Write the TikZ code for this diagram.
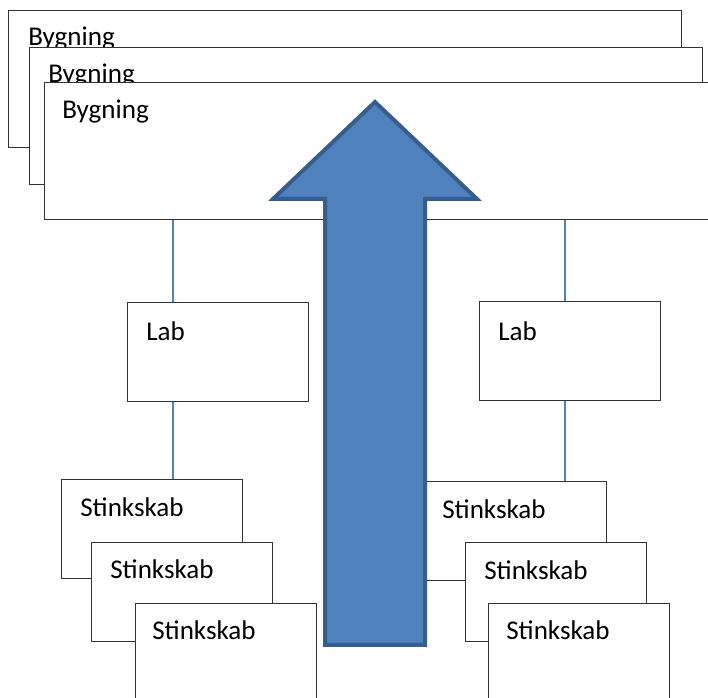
\documentclass[tikz,border=0pt]{standalone}
\usepackage{fontspec}
\setmainfont{Carlito}
\usepackage{xcolor}
\usetikzlibrary{positioning}

\definecolor{pilfyld}{HTML}{4F81BD}
\definecolor{pilkant}{HTML}{385D8A}

\tikzset{
  boks/.style={draw=black!80, line width=0.9pt, fill=white, anchor=north west, inner sep=0pt},
  stor/.style={boks, minimum width=673*0.75pt, minimum height=137*0.75pt},
  lille/.style={boks, minimum width=181*0.75pt, minimum height=99*0.75pt},
  tekst/.style={anchor=base west, inner sep=0pt, font=\fontsize{20.3}{24}\selectfont},
  forbindelse/.style={draw=pilfyld, line width=1pt}
}

\begin{document}
\begin{tikzpicture}[x=0.75pt, y=-0.75pt]
        \clip (0,0) rectangle (708,698);
        \fill[white] (0,0) rectangle (708,698);
        % bygninger
        \node[stor] (byg1) at (8,10) {};
        \node[tekst] (bygtekst1) at ([shift={(20,36)}]byg1.north west) {Bygning};
        \node[stor] (byg2) at (29,47) {};
        \node[tekst] (bygtekst2) at ([shift={(19,36)}]byg2.north west) {Bygning};
        \node[stor] (byg3) at (44,82) {};
        \node[tekst] (bygtekst3) at ([shift={(18,37)}]byg3.north west) {Bygning};
        % laboratorier
        \node[lille] (labL) at (127,302) {};
        \node[tekst] (labtekstL) at ([shift={(19,39)}]labL.north west) {Lab};
        \node[lille] (labR) at (479,301) {};
        \node[tekst] (labtekstR) at ([shift={(19,40)}]labR.north west) {Lab};
        \coordinate (forbL) at (173,0);
        \coordinate (forbR) at (565,0);
        \draw[forbindelse] (byg3.south -| forbL) -- (labL.north -| forbL);
        \draw[forbindelse] (byg3.south -| forbR) -- (labR.north -| forbR);
        % stinkskabe
        \node[lille] (skabL1) at (61,479) {};
        \node[tekst] at ([shift={(19,38)}]skabL1.north west) {Stinkskab};
        \node[lille] (skabL2) at (91,542) {};
        \node[tekst] at ([shift={(19,37)}]skabL2.north west) {Stinkskab};
        \node[lille] (skabL3) at (135,603) {};
        \node[tekst] at ([shift={(17,37)}]skabL3.north west) {Stinkskab};
        \node[lille] (skabR1) at (425,481) {};
        \node[tekst] at ([shift={(17,38)}]skabR1.north west) {Stinkskab};
        \node[lille] (skabR2) at (465,542) {};
        \node[tekst] at ([shift={(19,38)}]skabR2.north west) {Stinkskab};
        \node[lille] (skabR3) at (488,603) {};
        \node[tekst] at ([shift={(18,37)}]skabR3.north west) {Stinkskab};
        \draw[forbindelse] (labL.south -| forbL) -- (skabL1.north -| forbL);
        \draw[forbindelse] (labR.south -| forbR) -- (skabR1.north -| forbR);
        % pil
        \coordinate (P1) at (375,102);
        \coordinate (P2) at (477,199);
        \coordinate (P3) at (425,199);
        \coordinate (P4) at (425,645);
        \coordinate (P5) at (325,645);
        \coordinate (P6) at (325,199);
        \coordinate (P7) at (273,199);
        \draw[fill=pilfyld, draw=pilkant, line width=3pt] (P1) -- (P2) -- (P3) -- (P4) -- (P5) -- (P6) -- (P7) -- cycle;
    \end{tikzpicture}
\end{document}
